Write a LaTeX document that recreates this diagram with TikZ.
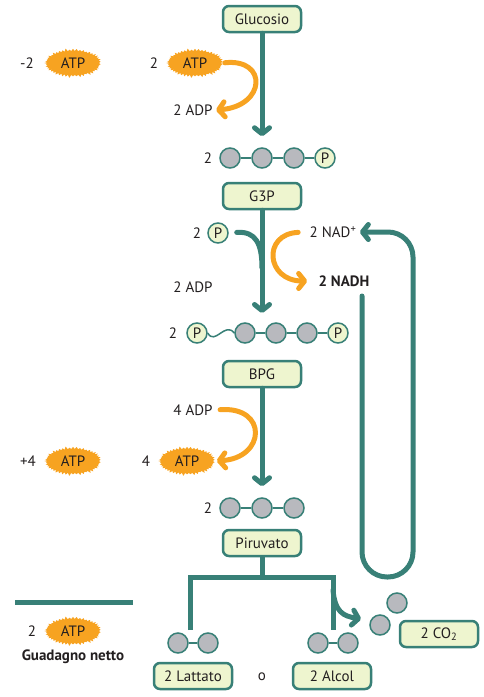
\documentclass[tikz,border=0pt]{standalone}
\usepackage{fontspec}
\setmainfont{PT Sans}
\usetikzlibrary{arrows.meta,shapes.symbols}
\definecolor{glteal}{RGB}{56,128,119}
\definecolor{glorange}{RGB}{247,163,33}
\definecolor{glcream}{RGB}{238,245,207}
\definecolor{glgray}{RGB}{184,185,190}
\definecolor{gltext}{RGB}{35,31,32}
\tikzset{
  barb/.tip={Straight Barb[length=6pt,width=15pt,round]},
}
\begin{document}
\begin{tikzpicture}[x=1pt,y=-1pt,
  font=\fontsize{15}{18}\selectfont, text=gltext,
  box/.style={draw=glteal,line width=2.5pt,fill=glcream,rounded corners=6pt,
    minimum width=78pt,minimum height=26pt,inner sep=2pt},
  atp/.style={starburst,starburst points=48,starburst point height=3pt,
    fill=glorange,minimum width=58pt,minimum height=30pt,inner sep=0pt},
  mol/.style={circle,draw=glteal,line width=1.5pt,fill=glgray,
    minimum size=20pt,inner sep=0pt},
  phos/.style={mol,fill=glcream},
  bond/.style={glteal,line width=1.5pt},
  flow/.style={glteal,line width=5pt,line cap=round},
  react/.style={glorange,line width=5pt,line cap=round}
]
\useasboundingbox (0,0) rectangle (484,697);

% glucose and first ATP investment
\node[box] (glu) at (262,19) {Glucosio};
\node (costa) at (27,63) {-2};
\node[atp] (atpa) at (73,63) {ATP};
\node (nra) at (154,63) {2};
\node[atp] (atpb) at (195,63) {ATP};
\node (adpa) at (193,110) {2 ADP};
\draw[react,-barb,shorten <=2pt] (atpb.east) .. controls (268,58) and (266,106) .. (adpa.east);

\node (nrb) at (208,158) {2};
\node[mol] (ca) at (230,158) {};
\node[mol] (cb) at (262,158) {};
\node[mol] (cc) at (294,158) {};
\node[phos] (pa) at (325,158) {P};
\draw[bond] (ca) -- (cb) -- (cc) -- (pa);
\draw[flow,-barb,shorten >=11pt] (glu) -- (cb);

% G3P
\node[box] (g3p) at (262,196) {G3P};
\node (nrc) at (197,233) {2};
\node[phos] (pb) at (218,233) {P};
\node (nad) at (333,232) {2 NAD\textsuperscript{+}};
\node[font=\fontsize{15}{18}\bfseries] (nadh) at (344,281) {2 NADH};
\node (adpb) at (193,287) {2 ADP};
\coordinate (tipb) at (262,313);
\draw[flow,-barb] (g3p) -- (tipb);
\draw[flow,shorten <=8pt] (pb.east) .. controls (256,231) and (262,244) .. (262,268);
\draw[react,-barb,shorten <=8pt,shorten >=8pt] (nad.west) .. controls (262,234) and (266,281) .. (nadh.west);

\node (nrd) at (173,333) {2};
\node[phos] (pc) at (197,333) {P};
\node[mol] (da) at (245,333) {};
\node[mol] (db) at (276,333) {};
\node[mol] (dc) at (307,333) {};
\node[phos] (pd) at (338,333) {P};
\draw[bond] (pc.east) .. controls (215,346) and (225,321) .. (da.west);
\draw[bond] (da) -- (db) -- (dc) -- (pd);

% BPG and ATP production
\node[box] (bpg) at (262,374) {BPG};
\node (adpc) at (193,410) {4 ADP};
\node (gaina) at (28,461) {+4};
\node[atp] (atpc) at (73,461) {ATP};
\node (nre) at (146,461) {4};
\node[atp] (atpd) at (187,461) {ATP};
\draw[react,-barb,shorten <=4pt,shorten >=2pt] (adpc.east) .. controls (268,406) and (266,458) .. (atpd.east);

\node (nrf) at (208,508) {2};
\node[mol] (ea) at (230,508) {};
\node[mol] (eb) at (262,508) {};
\node[mol] (ec) at (294,508) {};
\draw[bond] (ea) -- (eb) -- (ec);
\draw[flow,-barb,shorten >=11pt] (bpg) -- (eb);

% pyruvate and fermentation
\node[box] (pir) at (262,543) {Piruvato};
\coordinate (split) at (262,577);
\coordinate (lend) at (190,630);
\coordinate (rend) at (333,630);
\draw[flow,line cap=butt] (pir) -- (split);
\draw[flow,line cap=butt] (lend) |- (split) -| (rend);
\coordinate (fork) at (333,590);
\draw[flow,-barb] (fork) .. controls (335,612) and (343,616) .. (361,619);

\node[mol] (fa) at (178,643) {};
\node[mol] (fb) at (208,643) {};
\draw[bond] (fa) -- (fb);
\node[mol] (ga) at (318,643) {};
\node[mol] (gb) at (348,643) {};
\draw[bond] (ga) -- (gb);
\node[mol] (ha) at (380,625) {};
\node[mol] (hb) at (397,603) {};
\node[box] (co2) at (439,634) {2 CO\textsubscript{2}};
\node[box] (lat) at (193,676) {2 Lattato};
\node (orx) at (262,677) {o};
\node[box] (alc) at (332,676) {2 Alcol};

% NAD+ recycling loop
\coordinate (loopin) at (362,296);
\draw[flow,-barb,rounded corners=25pt] (loopin) -- (362,577) -- (413,577) -- (413,232) -- (nad.east);

% net gain
\draw[flow,line cap=butt] (15,602) -- (133,602);
\node (nrg) at (32,631) {2};
\node[atp] (atpe) at (73,631) {ATP};
\node[font=\fontsize{15}{18}\bfseries] (net) at (73,657) {Guadagno netto};
\end{tikzpicture}
\end{document}
